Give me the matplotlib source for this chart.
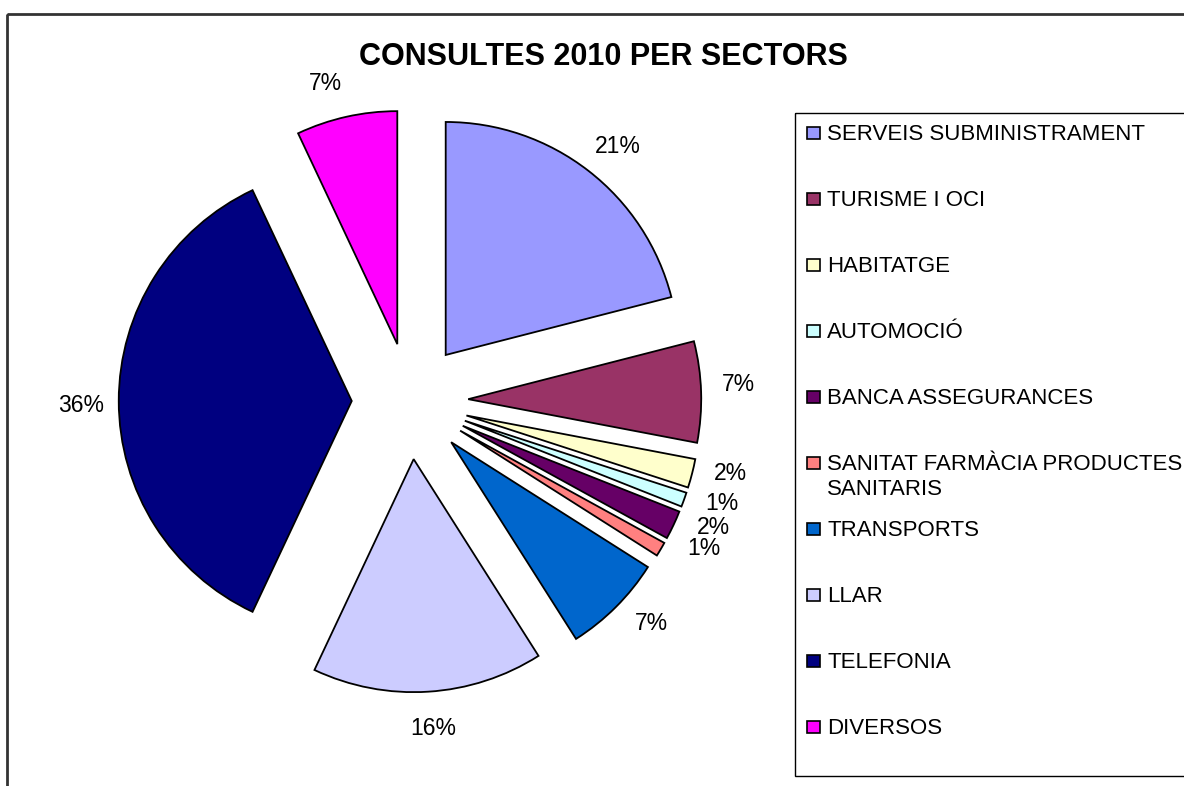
import numpy as np
import matplotlib
matplotlib.use("Agg")
import matplotlib.pyplot as plt
from matplotlib.patches import Rectangle

plt.rcParams['font.family'] = ['Liberation Sans', 'DejaVu Sans']

sectors = ["SERVEIS SUBMINISTRAMENT", "TURISME I OCI", "HABITATGE", "AUTOMOCIÓ",
           "BANCA ASSEGURANCES", "SANITAT FARMÀCIA PRODUCTES\nSANITARIS", "TRANSPORTS",
           "LLAR", "TELEFONIA", "DIVERSOS"]
percents = [21, 7, 2, 1, 2, 1, 7, 16, 36, 7]
colors = ["#9999FF", "#993366", "#FFFFCC", "#CCFFFF", "#660066",
          "#FF8080", "#0066CC", "#CCCCFF", "#000080", "#FF00FF"]
# small angle shifts (deg) so the crowded labels don't collide
nudge = [-1.5, 1.0, 1.6, 1.6, 2.6, 3.9, 2.3, 0.5, 0.7, 2.3]

W, H = 1184, 786
fig = plt.figure(figsize=(W / 100, H / 100), dpi=100)

# pie axes: 1 data unit = pie radius (233 px), centre at pixel (410, 401)
R, cx, cy = 233.0, 410.0, 401.0
ax = fig.add_axes([0, 0, 1, 1])
wedges, _ = ax.pie(percents, colors=colors, explode=[0.25] * len(percents),
                   startangle=90, counterclock=False,
                   wedgeprops=dict(edgecolor="black", linewidth=1.3))
for w, p, dn in zip(wedges, percents, nudge):
    a = np.deg2rad((w.theta1 + w.theta2) / 2 + dn)
    ax.text(1.41 * np.cos(a), 1.41 * np.sin(a), f"{p}%", ha="center", va="center",
            fontsize=16.5)
ax.set_xlim(-cx / R, (W - cx) / R)
ax.set_ylim(-(H - cy) / R, cy / R)
ax.axis("off")

# overlay in pixel coords for frame, title and legend
ov = fig.add_axes([0, 0, 1, 1], zorder=5)
ov.set_xlim(0, W)
ov.set_ylim(H, 0)
ov.axis("off")
ov.patch.set_alpha(0)
ov.add_patch(Rectangle((7, 14), W + 20, H + 20, fill=False, edgecolor="#333333", linewidth=2))
ov.text(603, 57, "CONSULTES 2010 PER SECTORS", ha="center", va="center",
        fontsize=22, fontweight="bold")

ov.add_patch(Rectangle((795, 112.5), 420, 663, fill=False, edgecolor="black", linewidth=1))
for i, (name, col) in enumerate(zip(sectors, colors)):
    y = 132 + i * 66
    ov.add_patch(Rectangle((807, y - 5), 13, 12, facecolor=col, edgecolor="black", linewidth=1.2))
    ov.text(827, y - 8.5, name, ha="left", va="top", fontsize=16, linespacing=1.3)

fig.savefig("out.png", dpi=100)
